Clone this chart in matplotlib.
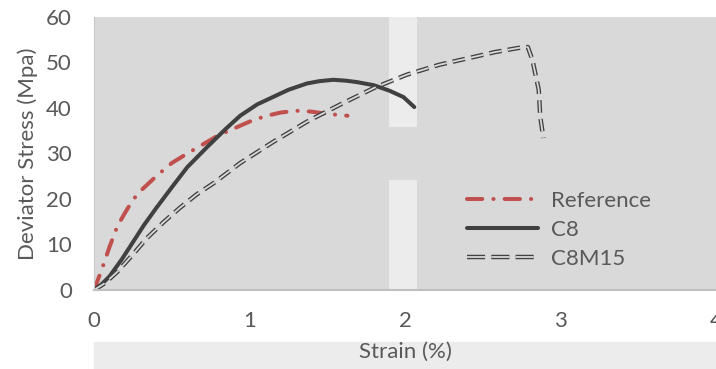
# Deviator stress vs strain for three mixes

import numpy as np
import matplotlib
matplotlib.use('Agg')
import matplotlib.pyplot as plt
from matplotlib.patches import Rectangle
from matplotlib.lines import Line2D
from matplotlib.legend_handler import HandlerTuple

plt.rcParams['font.family'] = ['Lato', 'DejaVu Sans']
plt.rcParams['lines.scale_dashes'] = False

# Data
ref_strain = [0, 0.05, 0.1, 0.15, 0.2, 0.25, 0.3, 0.4, 0.5, 0.6, 0.7, 0.8, 0.92,
              1.0, 1.1, 1.2, 1.3, 1.4, 1.5, 1.63]
ref_stress = [0, 4.5, 9.5, 14, 17, 19.8, 21.8, 25, 27.9, 30, 32, 34, 35.8,
              37, 38.2, 39, 39.4, 39.2, 38.7, 38.3]

c8_strain = [0, 0.05, 0.1, 0.18, 0.25, 0.32, 0.4, 0.51, 0.6, 0.73, 0.85, 0.94,
             1.05, 1.15, 1.25, 1.37, 1.45, 1.54, 1.62, 1.69, 1.8, 1.9, 1.99, 2.06]
c8_stress = [0, 1.3, 3, 6.8, 10.5, 14.2, 18, 23, 27, 31.5, 35.5, 38.3,
             40.8, 42.4, 44, 45.4, 45.9, 46.2, 46.0, 45.7, 45, 43.8, 42.4, 40.2]

m15_strain = [0, 0.07, 0.15, 0.25, 0.34, 0.45, 0.55, 0.66, 0.77, 0.94, 1.15, 1.37,
              1.58, 1.8, 2.01, 2.22, 2.44, 2.58, 2.73, 2.79, 2.82, 2.86, 2.87, 2.89]
m15_stress = [0, 1.5, 4, 7.8, 11.4, 15, 18, 21, 23.5, 27.9, 32.5, 37,
              40.7, 44.4, 47.3, 49.5, 51.2, 52.3, 53.2, 53.4, 50.5, 44, 38, 33.4]

bg = '#d9d9d9'
txt = '#595959'

fig = plt.figure(figsize=(7.16, 3.69), dpi=100)
fig.patches.append(Rectangle((94 / 716, 0), 1 - 94 / 716, 27 / 369,
                             transform=fig.transFigure, color='#ececec', zorder=-5))
ax = fig.add_axes([94 / 716, 79 / 369, 622 / 716, 273 / 369])
ax.set_facecolor(bg)

# lighter band in the background
ax.axvspan(1.9, 2.08, ymin=35.8 / 60, ymax=1, color='#ececec', lw=0, zorder=0)
ax.axvspan(1.9, 2.08, ymin=0, ymax=24.2 / 60, color='#ececec', lw=0, zorder=0)

ref_line, = ax.plot(ref_strain, ref_stress, color='#c0504d', lw=2.9,
                    dashes=(11, 8, 0.1, 8), dash_capstyle='round', label='Reference')
c8_line, = ax.plot(c8_strain, c8_stress, color='#404040', lw=2.9,
                   solid_capstyle='round', solid_joinstyle='round', label='C8')
ax.plot(m15_strain, m15_stress, color='#404040', lw=3.2,
        dashes=(9, 4.5), dash_capstyle='butt')
ax.plot(m15_strain, m15_stress, color=bg, lw=1.3,
        dashes=(9, 4.5), dash_capstyle='butt')

# legend proxy for the double dashed line
m15_outer = Line2D([], [], color='#404040', lw=3.2, dashes=(13, 4.5))
m15_inner = Line2D([], [], color=bg, lw=1.3, dashes=(13, 4.5))

ax.set_xlim(0, 4)
ax.set_ylim(0, 60)
ax.set_xticks([0, 1, 2, 3, 4])
ax.set_yticks(np.arange(0, 61, 10))
ax.tick_params(length=0, labelsize=16, colors=txt)
ax.tick_params(axis='y', pad=16)
ax.tick_params(axis='x', pad=15)
for s in ['top', 'right']:
    ax.spines[s].set_visible(False)
ax.spines['left'].set_color('#c8c8c8')
ax.spines['bottom'].set_color('#bfbfbf')
ax.spines['bottom'].set_linewidth(1.5)

ax.set_xlabel('Strain (%)', fontsize=16, color=txt, labelpad=8)
ax.set_ylabel('Deviator Stress (Mpa)', fontsize=16, color=txt, labelpad=6)

leg = ax.legend([ref_line, c8_line, (m15_outer, m15_inner)],
                ['Reference', 'C8', 'C8M15'],
                handler_map={tuple: HandlerTuple(ndivide=1)},
                loc='center left', bbox_to_anchor=(0.6, 0.22), frameon=False,
                fontsize=16, handlelength=3.2, handletextpad=0.55,
                labelspacing=0.42, borderpad=0, borderaxespad=0)
for t in leg.get_texts():
    t.set_color(txt)

fig.savefig('out.png', dpi=100)
